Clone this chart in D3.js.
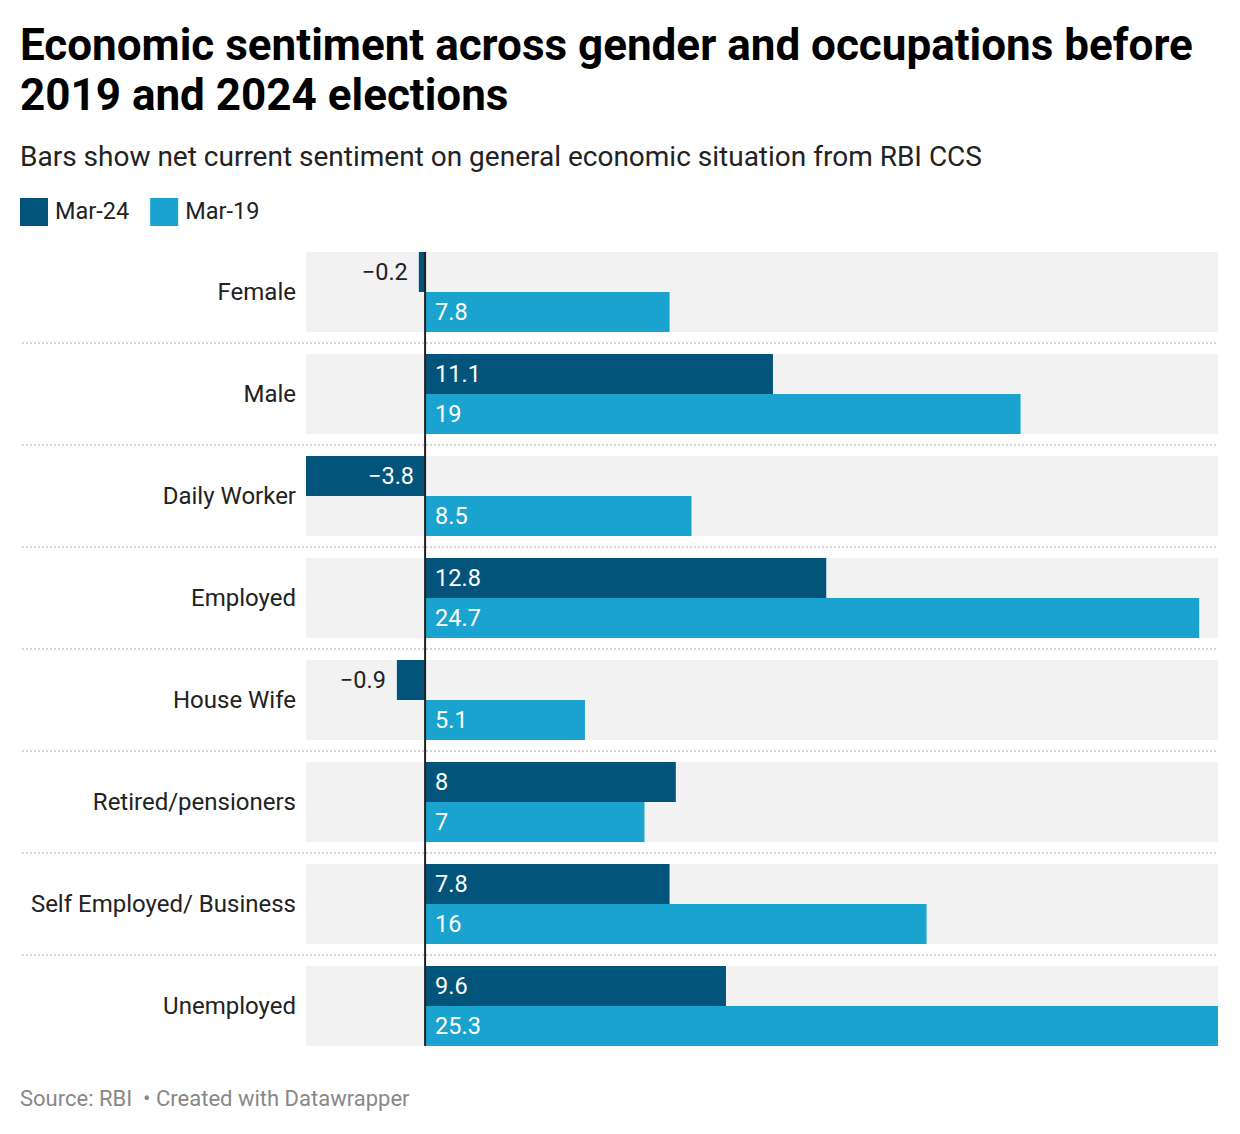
<!DOCTYPE html>
<html><head><meta charset="utf-8">
<script src="https://cdn.jsdelivr.net/npm/d3@7"></script>
<style>
body{margin:0;background:#fff;font-family:Roboto,sans-serif;}
svg text{font-family:Roboto,sans-serif;white-space:pre;}
</style></head>
<body>
<svg id="chart" width="1240" height="1134"></svg>
<script>
const categories = ["Female","Male","Daily Worker","Employed","House Wife","Retired/pensioners","Self Employed/ Business","Unemployed"];
const seriesNames = ["Mar-24","Mar-19"];
const mar24 = [-0.2, 11.1, -3.8, 12.8, -0.9, 8, 7.8, 9.6];
const mar19 = [7.8, 19, 8.5, 24.7, 5.1, 7, 16, 25.3];
const colors = ["#02547b","#1ba3cf"];

const svg = d3.select("#chart");
svg.append("text").attr("x",20).attr("y",60).attr("font-size",44).attr("font-weight",700).attr("fill","#000")
  .text("Economic sentiment across gender and occupations before");
svg.append("text").attr("x",20).attr("y",110).attr("font-size",44).attr("font-weight",700).attr("fill","#000")
  .text("2019 and 2024 elections");
svg.append("text").attr("x",20).attr("y",166).attr("font-size",28).attr("fill","#222")
  .text("Bars show net current sentiment on general economic situation from RBI CCS");

// legend
let lx = 20;
seriesNames.forEach((s,i)=>{
  svg.append("rect").attr("x",lx).attr("y",198).attr("width",28).attr("height",28).attr("fill",colors[i]);
  const t = svg.append("text").attr("x",lx+35).attr("y",219).attr("font-size",23.5).attr("fill","#222").text(s);
  lx += 35 + t.node().getComputedTextLength() + 21;
});

const x = d3.scaleLinear().domain([d3.min(mar24.concat(mar19)), d3.max(mar24.concat(mar19))]).range([306,1218]);
const step = 102, bandH = 80;
const yPos = i => 252 + i*step;
const sub = d3.scaleBand().domain(seriesNames).range([0,bandH]);

const data = categories.map((c,i)=>({cat:c, vals:[mar24[i], mar19[i]]}));
const g = svg.append("g");

data.forEach((d,i)=>{
  const y0 = yPos(i);
  g.append("rect").attr("x",306).attr("y",y0).attr("width",1218-306).attr("height",bandH).attr("fill","#f2f2f2");
  if(i>0){
    g.append("line").attr("x1",22).attr("x2",1218).attr("y1",y0-11).attr("y2",y0-11)
      .attr("stroke","#c8c8c8").attr("stroke-width",1.5).attr("stroke-dasharray","2,2");
  }
  g.append("text").attr("x",296).attr("y",y0+bandH/2).attr("dy","0.35em").attr("text-anchor","end")
    .attr("font-size",24).attr("fill","#222").text(d.cat);
  d.vals.forEach((v,j)=>{
    const by = y0 + sub(seriesNames[j]);
    const bx = Math.min(x(0), x(v)), bw = Math.abs(x(v)-x(0));
    g.append("rect").attr("x",bx).attr("y",by).attr("width",bw).attr("height",sub.bandwidth()).attr("fill",colors[j]);
    const label = d3.format("")(v).replace("-","\u2212");
    const t = g.append("text").attr("y",by+sub.bandwidth()/2).attr("dy","0.35em").attr("font-size",23.5).text(label);
    if(v>=0){
      t.attr("x",x(0)+10).attr("fill","#fff");
    } else {
      t.attr("text-anchor","end");
      const tw = t.node().getComputedTextLength();
      if(bw > tw + 20){ t.attr("x",x(0)-11).attr("fill","#fff"); }
      else { t.attr("x",x(v)-11).attr("fill","#222"); }
    }
  });
});
// zero line
svg.append("line").attr("x1",x(0)).attr("x2",x(0)).attr("y1",252).attr("y2",252+step*7+bandH)
  .attr("stroke","#222").attr("stroke-width",2);

svg.append("text").attr("x",20).attr("y",1106).attr("font-size",22).attr("fill","#888")
  .text("Source: RBI  \u2022 Created with Datawrapper");
</script>
</body></html>
